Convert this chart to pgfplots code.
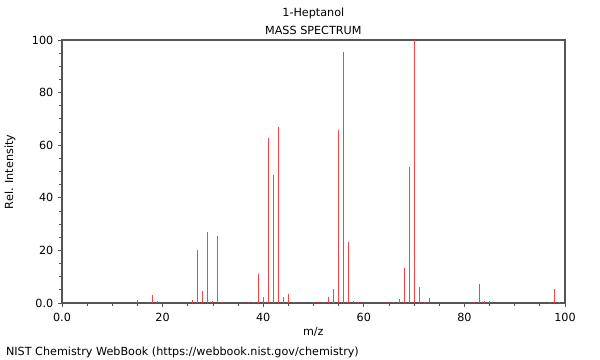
\documentclass[border=0pt]{standalone}
\usepackage{pgfplots}
\pgfplotsset{compat=1.18}
\usepackage{fontspec}
\setmainfont{DejaVu Sans}
\definecolor{axgray}{HTML}{555555}
\definecolor{specred}{HTML}{FF4040}
\begin{document}
\begin{tikzpicture}[font=\fontsize{8.4pt}{10pt}\selectfont, x=1pt, y=1pt]
\path[use as bounding box] (0,0) rectangle (450,270);
\begin{axis}[
  at={(46.5pt,42.75pt)}, anchor=south west,
  scale only axis, width=377.25pt, height=197.25pt,
  xmin=0, xmax=100, ymin=0, ymax=100,
  xtick={0,20,40,60,80,100}, xticklabels={0.0,20,40,60,80,100},
  ytick={0,20,40,60,80,100}, yticklabels={0.0,20,40,60,80,100},
  minor xtick={5,10,15,25,30,35,45,50,55,65,70,75,85,90,95},
  minor ytick={5,10,15,25,30,35,45,50,55,65,70,75,85,90,95},
  tick align=outside, major tick length=3pt, minor tick length=2pt,
  xtick pos=bottom, ytick pos=left,
  tick style={axgray, line width=0.6pt},
  axis line style={axgray, line width=0.8pt},
  /pgf/number format/assume math mode=true,
  xticklabel style={yshift=-1pt},
  clip=true,
]
\addplot[ycomb, specred, line width=0.75pt, mark=none] coordinates {
(15,1.1) (17,0.5) (18,3) (19,0.8) (26,1.1) (27,20.2) (28,4.4) (29,27.1)
(30,0.6) (31,25.5) (32,0.3) (37,0.3) (38,0.5) (39,11.2) (40,2.4) (41,62.7)
(42,48.5) (43,66.8) (44,2.4) (45,3.4) (46,0.2) (50,0.3) (51,0.5) (52,0.3)
(53,2.4) (54,5.4) (55,65.8) (56,95.6) (57,23.3) (58,0.9) (59,0.3) (65,0.3)
(66,0.4) (67,1.6) (68,13.3) (69,51.8) (70,100) (71,6.2) (72,0.4) (73,1.9)
(81,0.5) (82,0.3) (83,7.2) (84,0.7) (85,0.8) (97,0.5) (98,5.4) (99,0.4)
};
\end{axis}
\node at (235,260.25) {1-Heptanol};
\node at (235,247.5) {MASS SPECTRUM};
\node at (235,21) {m/z};
\node[rotate=90] at (7.5,141) {Rel. Intensity};
\node[anchor=west] at (1,6) {NIST Chemistry WebBook (https://webbook.nist.gov/chemistry)};
\end{tikzpicture}
\end{document}
